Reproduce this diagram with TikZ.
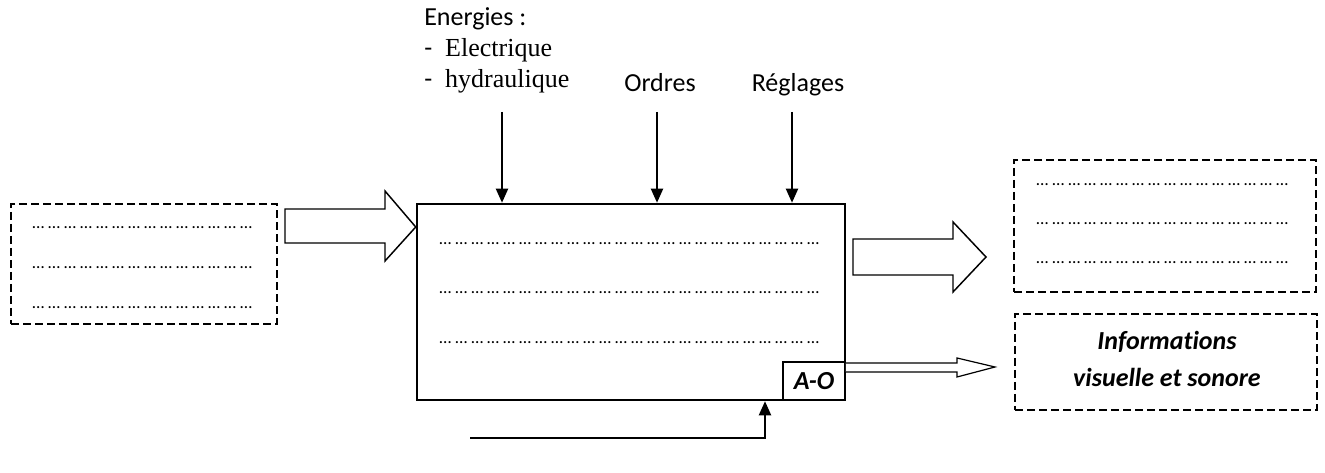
\documentclass[tikz,border=0pt]{standalone}
\usepackage{fontspec}
\setmainfont{Carlito}[Ligatures=NoCommon]
\newfontfamily\tnr{Liberation Serif}
\usetikzlibrary{arrows.meta}
\newcommand\dotrow[1]{\hbox to #1{\fontsize{13}{15}\selectfont\xleaders\hbox to 12pt{…\hss}\hfill}}
\tikzset{
  px/.style={x=0.75pt,y=-0.75pt},
  mainbox/.style={draw,line width=1.9pt,inner sep=0pt,fill=white},
  dashbox/.style={draw,line width=1.1pt,dash pattern=on 6pt off 3pt,inner sep=0pt},
  aobox/.style={draw,line width=1.3pt,inner sep=0pt,fill=white},
  blockarrow/.style={draw,line width=1.1pt,fill=white,line join=miter},
  flow/.style={draw,line width=1.5pt,-{Triangle[length=10.5pt,width=9pt]}},
  txt/.style={inner sep=0pt,anchor=base west,font=\fontsize{19.5}{23}\selectfont},
  ctxt/.style={inner sep=0pt,anchor=base,font=\fontsize{19.5}{23}\selectfont},
  dotnode/.style={inner sep=0pt,anchor=base west},
}
\begin{document}
\begin{tikzpicture}[px]
\fill[white] (0,0) rectangle (1325,473);
\useasboundingbox (0,0) rectangle (1325,473);
% boxes
\node[mainbox,minimum width=321pt,minimum height=147pt] (main) at (631,302) {};
\node[aobox,minimum width=46.5pt,minimum height=28.5pt] (ao) at (814,381) {\fontsize{19.5}{23}\selectfont\bfseries\itshape A-O};
\node[dashbox,minimum width=199.5pt,minimum height=90pt] (inbox) at (144,264) {};
\node[dashbox,minimum width=226.5pt,minimum height=99pt] (outbox) at (1165,226) {};
\node[dashbox,minimum width=226.5pt,minimum height=72pt] (infobox) at (1166,362) {};
\node[ctxt,font=\fontsize{19.5}{23}\selectfont\bfseries\itshape] (info1) at (1167,350) {Informations};
\node[ctxt,font=\fontsize{19.5}{23}\selectfont\bfseries\itshape] (info2) at (1167,387) {visuelle et sonore};
% dotted rows
\foreach \y [count=\i] in {245,294,344} {\node[dotnode] (m\i) at (439,\y) {\dotrow{288pt}};}
\foreach \y [count=\i] in {229,269,309} {\node[dotnode] (l\i) at (32,\y) {\dotrow{168pt}};}
\foreach \y [count=\i] in {186,225,264} {\node[dotnode] (r\i) at (1036,\y) {\dotrow{192pt}};}
% texts
\node[txt] (energ) at (424,26) {Energies :};
\node[txt] (elec) at (424,57) {-\hspace{0.5em}{\tnr Electrique}};
\node[txt] (hydr) at (424,88) {-\hspace{0.5em}{\tnr hydraulique}};
\node[ctxt] (ordres) at (660,92) {Ordres};
\node[ctxt] (reglages) at (798,92) {Réglages};
% control arrows
\coordinate (c1) at (502,112);
\coordinate (c2) at (657,112);
\coordinate (c3) at (792,112);
\draw[flow] (c1) -- (c1 |- main.north);
\draw[flow] (c2) -- (c2 |- main.north);
\draw[flow] (c3) -- (c3 |- main.north);
% support arrow
\coordinate (s0) at (470,438);
\coordinate (s1) at (765,438);
\draw[flow] (s0) -- (s1) -- (s1 |- main.south);
% input block arrow
\draw[blockarrow] (285,209) -- (385,209) -- (385,191) -- (main.west |- 0,227) -- (385,261) -- (385,243) -- (285,243) -- cycle;
% output block arrow
\draw[blockarrow] (853,239) -- (953,239) -- (953,222) -- (986,257) -- (953,292) -- (953,275) -- (853,275) -- cycle;
% thin output arrow
\draw[blockarrow,line width=0.9pt] (ao.east |- 0,363) -- (957,363) -- (957,358) -- (995,367) -- (957,377) -- (957,372) -- (ao.east |- 0,372);
\end{tikzpicture}
\end{document}
